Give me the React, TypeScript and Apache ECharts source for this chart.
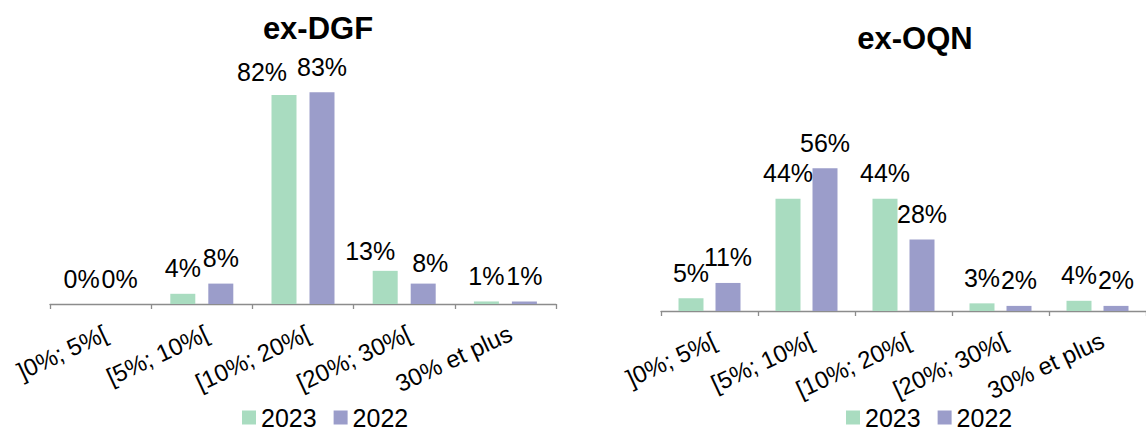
import React, { useEffect, useRef } from 'react';
import * as echarts from 'echarts';

const categories = [']0%; 5%[', '[5%; 10%[', '[10%; 20%[', '[20%; 30%[', '30% et plus'];
const years = ['2023', '2022'];
const dgf2023 = [0, 4, 82, 13, 1];
const dgf2022 = [0, 8, 83, 8, 1];
const oqn2023 = [5, 44, 44, 3, 4];
const oqn2022 = [11, 56, 28, 2, 2];

const FONT = "'Liberation Sans', Arial, sans-serif";
const GREEN = '#A9DCC0';
const PURPLE = '#9B9DCA';
const AXIS = '#8C8C8C';

// label nudges (styling only), keyed by category index
const nudgeDgf2023: Record<number, [number, number]> = { 2: [-22, 3], 3: [-15, 6] };
const nudgeDgf2022: Record<number, [number, number]> = { 3: [7, 5] };

function withNudge(values: number[], nudge: Record<number, [number, number]>) {
  return values.map((v, i) => (nudge[i] ? { value: v, label: { offset: nudge[i] } } : v));
}

function xAxis(gridIndex: number) {
  return {
    type: 'category',
    gridIndex,
    data: categories,
    axisLine: { lineStyle: { color: AXIS, width: 1.3 } },
    axisTick: { show: true, length: 5, lineStyle: { color: AXIS, width: 1.3 } },
    axisLabel: {
      interval: 0,
      rotate: 25,
      align: 'right',
      verticalAlign: 'top',
      margin: 17,
      fontSize: 24,
      color: '#000',
      fontFamily: FONT,
    },
  };
}

function yAxis(gridIndex: number) {
  return { type: 'value', gridIndex, min: 0, max: 100, show: false, splitLine: { show: false } };
}

const labelStyle = {
  show: true,
  position: 'top',
  distance: 13,
  formatter: '{c}%',
  fontSize: 25,
  color: '#000',
  fontFamily: FONT,
};

function bar(name: string, data: any[], color: string, idx: number, gap: string) {
  return {
    type: 'bar',
    name,
    xAxisIndex: idx,
    yAxisIndex: idx,
    data,
    barWidth: 25,
    barGap: gap,
    itemStyle: { color },
    label: labelStyle,
  };
}

function legend(left: number) {
  return {
    data: years,
    left,
    top: 400,
    icon: 'rect',
    itemWidth: 14,
    itemHeight: 14,
    itemGap: 17,
    textStyle: { fontSize: 25, color: '#000', fontFamily: FONT },
    selectedMode: false,
  };
}

export default function App() {
  const ref = useRef<HTMLDivElement>(null);
  useEffect(() => {
    document.body.style.margin = '0';
    const chart = echarts.init(ref.current!, null, { renderer: 'svg' });
    chart.setOption({
      animation: false,
      color: [GREEN, PURPLE],
      textStyle: { fontFamily: FONT },
      graphic: [
        {
          type: 'text',
          x: 318,
          y: 28,
          style: { text: 'ex-DGF', align: 'center', verticalAlign: 'middle', fill: '#000', font: `bold 31px ${FONT}` },
        },
        {
          type: 'text',
          x: 915,
          y: 38,
          style: { text: 'ex-OQN', align: 'center', verticalAlign: 'middle', fill: '#000', font: `bold 31px ${FONT}` },
        },
      ],
      legend: [legend(237), legend(841)],
      grid: [
        { left: 50, top: 49, width: 506, height: 255 },
        { left: 661, top: 56, width: 492, height: 255 },
      ],
      xAxis: [xAxis(0), xAxis(1)],
      yAxis: [yAxis(0), yAxis(1)],
      series: [
        bar('2023', withNudge(dgf2023, nudgeDgf2023), GREEN, 0, '52%'),
        bar('2022', withNudge(dgf2022, nudgeDgf2022), PURPLE, 0, '52%'),
        bar('2023', oqn2023, GREEN, 1, '48%'),
        bar('2022', oqn2022, PURPLE, 1, '48%'),
      ],
    });
    return () => chart.dispose();
  }, []);
  return <div ref={ref} style={{ width: 1146, height: 432 }} />;
}
